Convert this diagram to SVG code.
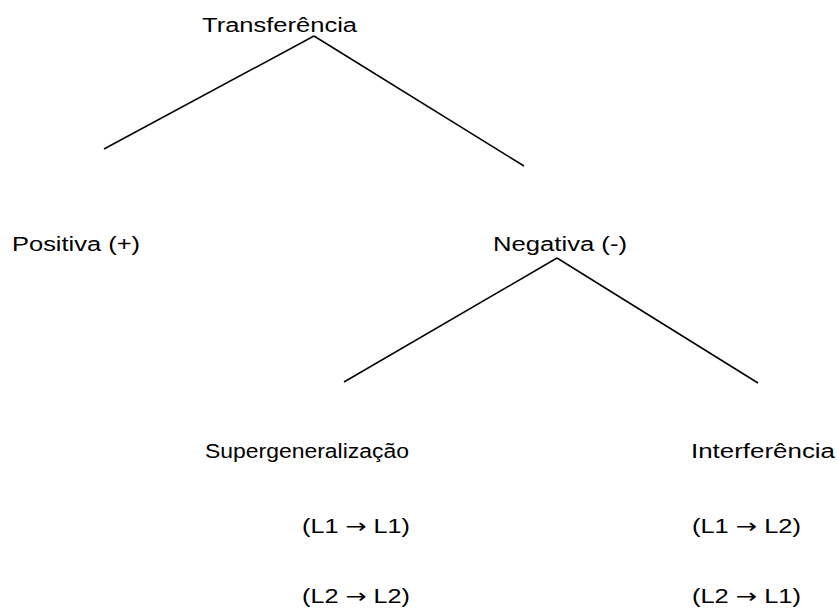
<svg xmlns="http://www.w3.org/2000/svg" width="839" height="609" viewBox="0 0 839 609">
<style>
text{font-family:"Liberation Sans","Noto Sans",sans-serif;font-size:20px;fill:#000}
.a{font-family:"DejaVu Sans",sans-serif;font-size:20px}
.c line{stroke:#000;stroke-width:1.5;fill:none}
</style>
<rect width="839" height="609" fill="#fff"/>
<g class="c" id="connectors">
<line x1="314" y1="36" x2="104" y2="149"/>
<line x1="314" y1="36" x2="524" y2="166"/>
<line x1="557" y1="258" x2="344" y2="382"/>
<line x1="557" y1="258" x2="758" y2="383"/>
</g>
<g id="transferencia"><text x="202" y="32" textLength="155" lengthAdjust="spacingAndGlyphs">Transferência</text></g>
<g id="positiva"><text x="12" y="251" textLength="128" lengthAdjust="spacingAndGlyphs">Positiva (+)</text></g>
<g id="negativa"><text x="493" y="251" textLength="134" lengthAdjust="spacingAndGlyphs">Negativa (-)</text></g>
<g id="supergeneralizacao">
<text x="205" y="458" textLength="204" lengthAdjust="spacingAndGlyphs">Supergeneralização</text>
<text x="302" y="533" textLength="108" lengthAdjust="spacingAndGlyphs">(L1 <tspan class="a">→</tspan> L1)</text>
<text x="302" y="603" textLength="108" lengthAdjust="spacingAndGlyphs">(L2 <tspan class="a">→</tspan> L2)</text>
</g>
<g id="interferencia">
<text x="691" y="458" textLength="144" lengthAdjust="spacingAndGlyphs">Interferência</text>
<text x="692" y="533" textLength="109" lengthAdjust="spacingAndGlyphs">(L1 <tspan class="a">→</tspan> L2)</text>
<text x="692" y="603" textLength="109" lengthAdjust="spacingAndGlyphs">(L2 <tspan class="a">→</tspan> L1)</text>
</g>
</svg>
